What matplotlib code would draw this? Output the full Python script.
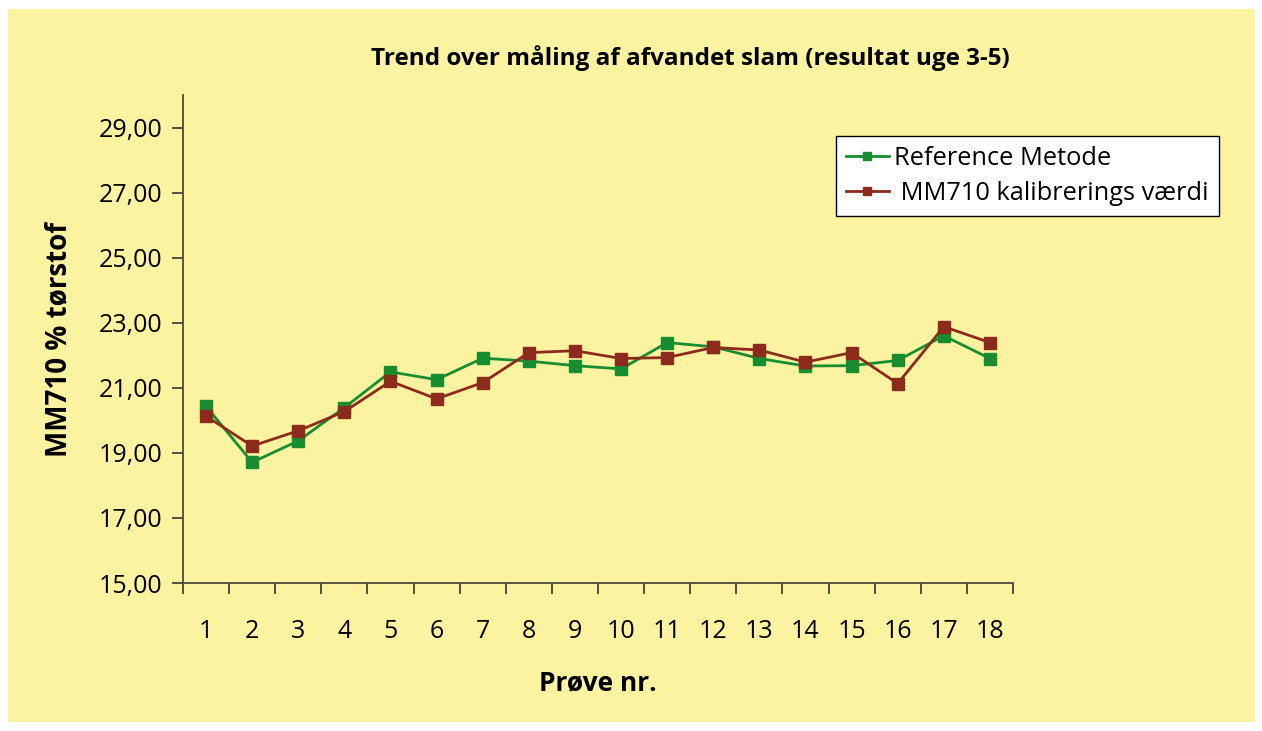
import numpy as np
import matplotlib.pyplot as plt
from matplotlib.patches import Rectangle
from matplotlib.ticker import FixedLocator, FuncFormatter

plt.rcParams['font.family'] = ['Open Sans', 'DejaVu Sans']

# Data
samples = list(range(1, 19))
reference = [20.43, 18.71, 19.37, 20.39, 21.49, 21.25, 21.91, 21.82, 21.68,
             21.58, 22.39, 22.26, 21.90, 21.67, 21.68, 21.84, 22.60, 21.90]
mm710 = [20.13, 19.21, 19.68, 20.27, 21.20, 20.66, 21.16, 22.08, 22.14,
         21.90, 21.93, 22.24, 22.16, 21.79, 22.08, 21.13, 22.88, 22.39]
yticks = [15, 17, 19, 21, 23, 25, 27, 29]

bg = '#FBF3A0'
green = '#168E30'
red = '#8C2B1B'

fig = plt.figure(figsize=(12.62, 7.31), dpi=100, facecolor='white')
fig.patches.append(Rectangle((8/1262, 9/731), 1247/1262, 713/731,
                             transform=fig.transFigure, facecolor=bg,
                             edgecolor='none', zorder=-5))

ax = fig.add_axes([183/1262, 1 - 583/731, 830/1262, 488/731])
ax.set_zorder(2)
ax.patch.set_alpha(0)

ax.plot(samples, reference, color=green, marker='s', markersize=8, lw=2.0,
        label='Reference Metode', zorder=3)
ax.plot(samples, mm710, color=red, marker='s', markersize=8, lw=2.0,
        label=' MM710 kalibrerings værdi', zorder=4)

ax.set_xlim(0.5, 18.5)
ax.set_ylim(15, 30)

for s in ['top', 'right']:
    ax.spines[s].set_visible(False)
for s in ['left', 'bottom']:
    ax.spines[s].set_color('#4a4a3a')
    ax.spines[s].set_linewidth(1.3)

ax.set_yticks(yticks)
ax.yaxis.set_major_formatter(FuncFormatter(lambda v, p: f'{v:.2f}'.replace('.', ',')))
ax.tick_params(axis='y', length=8, width=1.2, color='#333333', pad=7, labelsize=18)

ax.set_xticks(samples)
ax.xaxis.set_minor_locator(FixedLocator(np.arange(0.5, 19, 1)))
ax.tick_params(axis='x', which='major', length=0, pad=26, labelsize=18)
ax.tick_params(axis='x', which='minor', length=8, width=1.2, color='#333333')

ax.set_xlabel('Prøve nr.', fontsize=19, fontweight='bold', labelpad=18)
ax.set_ylabel('MM710 % tørstof', fontsize=20, fontweight='bold', labelpad=18)

fig.text(690/1262, 1 - 58/731, 'Trend over måling af afvandet slam (resultat uge 3-5)',
         ha='center', va='center', fontsize=17.5, fontweight='bold')

leg = fig.legend(loc='upper left', bbox_to_anchor=(823/1262, 1 - 123/731),
                 fontsize=18.3, fancybox=False, framealpha=1, edgecolor='black',
                 handlelength=1.7, borderpad=0.4, labelspacing=0.4,
                 handletextpad=0.2, markerscale=0.7)
leg.get_frame().set_linewidth(1.0)
leg.set_zorder(5)

fig.savefig('out.png', dpi=100, facecolor=fig.get_facecolor())
